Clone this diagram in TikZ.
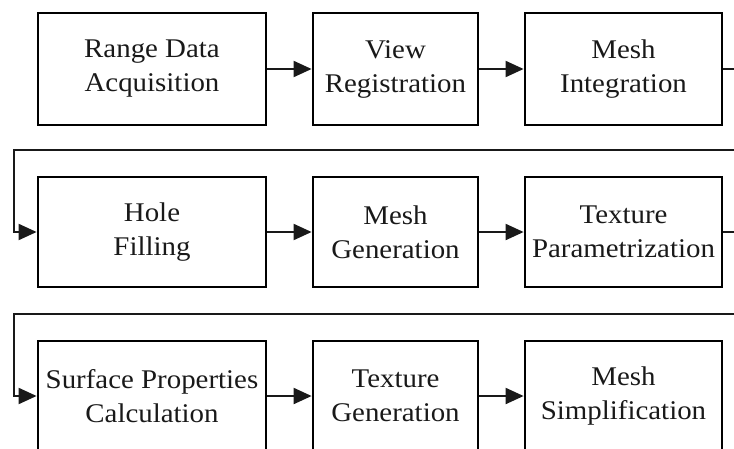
\documentclass[tikz,border=0pt]{standalone}
\usepackage{fontspec}
\setmainfont{Liberation Serif}[FakeStretch=1.07]
\usetikzlibrary{arrows.meta}
\begin{document}
\begin{tikzpicture}[x=1pt,y=-1pt,
  stagebox/.style={draw=black,line width=2.8pt,minimum height=112pt,inner sep=0pt,
    align=center,font=\fontsize{27}{34}\selectfont,text=black!90},
  flow/.style={line width=2pt,draw=black!90,-{Triangle[length=18pt,width=16pt]}},
  plain/.style={line width=2pt,draw=black!90}]
\useasboundingbox (0,0) rectangle (734,448);
\clip (0,0) rectangle (734,448);
% row 1
\node[stagebox,minimum width=228pt] (a1) at (152,69) {Range Data\\Acquisition};
\node[stagebox,minimum width=165pt] (a2) at (395.5,69) {View\\Registration};
\node[stagebox,minimum width=197pt] (a3) at (623.5,69) {Mesh\\Integration};
% row 2
\node[stagebox,minimum width=228pt,minimum height=110pt] (b1) at (152,232) {Hole\\Filling};
\node[stagebox,minimum width=165pt,minimum height=110pt] (b2) at (395.5,232) {Mesh\\Generation};
\node[stagebox,minimum width=197pt,minimum height=110pt] (b3) at (623.5,232) {Texture\\Parametrization};
% row 3
\node[stagebox,minimum width=228pt,minimum height=110pt] (c1) at (152,396) {Surface Properties\\Calculation};
\node[stagebox,minimum width=165pt,minimum height=110pt] (c2) at (395.5,396) {Texture\\Generation};
\node[stagebox,minimum width=197pt,minimum height=110pt] (c3) at (623.5,396) {Mesh\\Simplification};
% free ends at the picture edge
\coordinate (e1) at (736,69);
\coordinate (e2) at (736,232);
\coordinate (f1) at (736,150);
\coordinate (f2) at (736,314);
% connectors
\draw[flow] (a1) -- (a2);
\draw[flow] (a2) -- (a3);
\draw[plain] (a3.east) -- (e1);
\draw[flow] (f1) -- (14,150) |- (b1.west);
\draw[flow] (b1) -- (b2);
\draw[flow] (b2) -- (b3);
\draw[plain] (b3.east) -- (e2);
\draw[flow] (f2) -- (14,314) |- (c1.west);
\draw[flow] (c1) -- (c2);
\draw[flow] (c2) -- (c3);
\end{tikzpicture}
\end{document}
